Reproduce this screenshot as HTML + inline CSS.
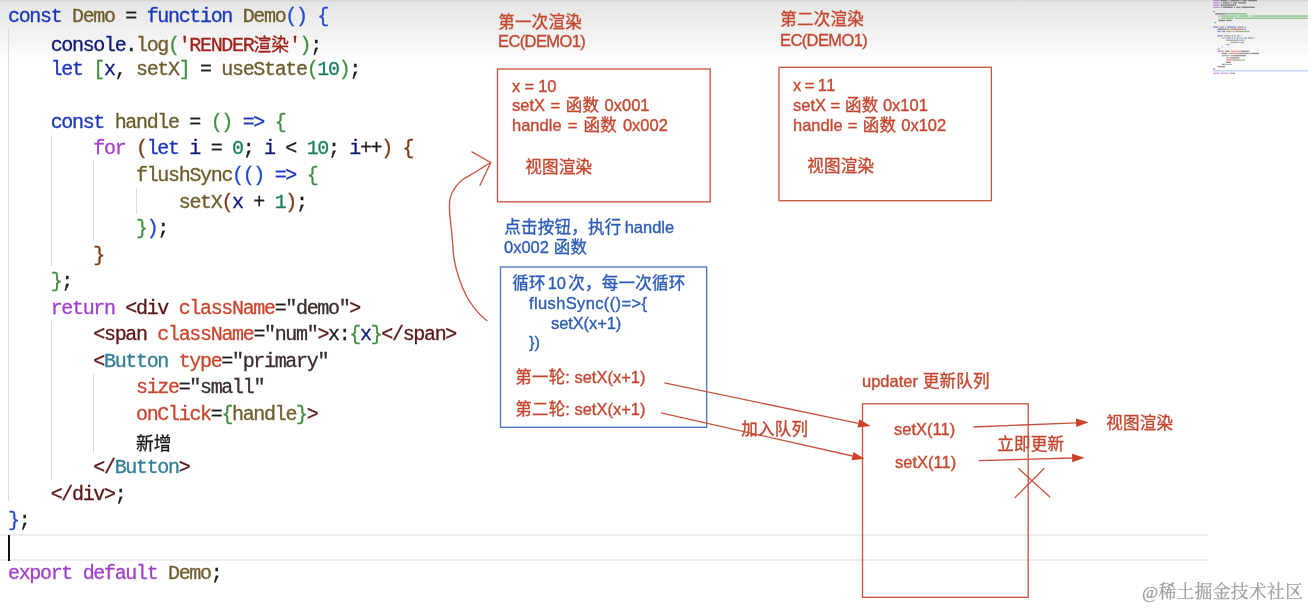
<!DOCTYPE html>
<html lang="zh"><head><meta charset="utf-8"><title>flushSync updater queue</title>
<style>
html,body{margin:0;padding:0}
body{width:1308px;height:609px;position:relative;overflow:hidden;background:#fff;font-family:"Liberation Sans","Noto Sans CJK SC",sans-serif}
.bg{position:absolute;left:0;top:0;width:1308px;height:80px;background:linear-gradient(to bottom,#d6d6d6 0px,#e4e4e4 2.5px,#e8e8e8 8px,#eeeeee 24px,#f5f5f5 42px,#fcfcfc 56px,#fff 66px)}
.cl,.dt,.wm{will-change:transform}
.cl{position:absolute;left:7.7px;height:26px;line-height:26px;font-family:"Liberation Mono","Noto Sans CJK SC",monospace;font-size:20.00px;white-space:pre;color:#1e1e1e;letter-spacing:-1.332px;-webkit-text-stroke:0.3px currentColor}
.cl span{display:inline-block}
.cj{display:inline-block;text-align:center;letter-spacing:0;word-spacing:0;white-space:nowrap}
.cl .cj{width:17.75px;font-size:17.75px;font-family:"Noto Sans CJK SC",sans-serif}
.ig{position:absolute;width:1px;background:#dcdcdc}
.hl{position:absolute;left:0;width:1208px;height:2px;background:#ededed}
.cur{position:absolute;left:7.5px;top:534.5px;width:2.4px;height:26px;background:#111}
.dt{position:absolute;height:20px;line-height:20px;white-space:pre;font-family:"Liberation Sans","Noto Sans CJK SC",sans-serif;-webkit-text-stroke:0.35px currentColor}
.r{display:inline-block}
.dt .cj{width:1.016em}
.ov{position:absolute;left:0;top:0}
.wm{position:absolute;font-family:"Liberation Serif","Noto Serif CJK SC",serif;font-size:17.7px;line-height:22px;height:22px;white-space:pre;color:#9e9e9e;-webkit-text-stroke:0.25px currentColor}
.wm .cj{width:18.1px;font-size:17.7px}
.k{color:#1a36bc}.f{color:#6d5c2b}.v{color:#0e1874}.s{color:#9e2018}.n{color:#1c7e5e}.c{color:#a040cc}.t{color:#5a1616}.a{color:#c9462f}.q{color:#3a2c2c}.y{color:#317d97}.p{color:#1c1c1c}.b1{color:#2048d2}.b2{color:#3f8f40}.b3{color:#7b3a16}
</style></head><body>
<div class="bg"></div>
<div class="ig" style="left:8.0px;top:28.4px;height:472.9px"></div>
<div class="ig" style="left:50.7px;top:134.7px;height:132.7px"></div>
<div class="ig" style="left:50.7px;top:320.5px;height:159.3px"></div>
<div class="ig" style="left:93.4px;top:161.2px;height:79.7px"></div>
<div class="ig" style="left:93.4px;top:373.6px;height:79.7px"></div>
<div class="ig" style="left:136.0px;top:187.8px;height:26.6px"></div>
<div class="hl" style="top:533.7px"></div><div class="hl" style="top:558.7px"></div>
<div class="cur"></div>
<div class="cl" style="top:3.70px"><span class="k" style="width:53.35px">const</span><span class="p" style="width:10.67px"> </span><span class="f" style="width:42.68px">Demo</span><span class="p" style="width:32.01px"> = </span><span class="k" style="width:85.36px">function</span><span class="p" style="width:10.67px"> </span><span class="f" style="width:42.68px">Demo</span><span class="b1" style="width:21.34px">()</span><span class="p" style="width:10.67px"> </span><span class="b1" style="width:10.67px">{</span></div>
<div class="cl" style="top:30.25px"><span class="p" style="width:42.68px">    </span><span class="v" style="width:74.69px">console</span><span class="p" style="width:10.67px">.</span><span class="f" style="width:32.01px">log</span><span class="b2" style="width:10.67px">(</span><span class="s" style="width:120.86px">&#x27;RENDER<span class="cj">渲</span><span class="cj">染</span>&#x27;</span><span class="b2" style="width:10.67px">)</span><span class="p" style="width:10.67px">;</span></div>
<div class="cl" style="top:56.80px"><span class="p" style="width:42.68px">    </span><span class="k" style="width:32.01px">let</span><span class="p" style="width:10.67px"> </span><span class="b2" style="width:10.67px">[</span><span class="v" style="width:10.67px">x</span><span class="p" style="width:21.34px">, </span><span class="f" style="width:42.68px">setX</span><span class="b2" style="width:10.67px">]</span><span class="p" style="width:32.01px"> = </span><span class="f" style="width:85.36px">useState</span><span class="b2" style="width:10.67px">(</span><span class="n" style="width:21.34px">10</span><span class="b2" style="width:10.67px">)</span><span class="p" style="width:10.67px">;</span></div>
<div class="cl" style="top:109.90px"><span class="p" style="width:42.68px">    </span><span class="k" style="width:53.35px">const</span><span class="p" style="width:10.67px"> </span><span class="f" style="width:64.02px">handle</span><span class="p" style="width:32.01px"> = </span><span class="b2" style="width:21.34px">()</span><span class="p" style="width:10.67px"> </span><span class="k" style="width:21.34px">=&gt;</span><span class="p" style="width:10.67px"> </span><span class="b2" style="width:10.67px">{</span></div>
<div class="cl" style="top:136.45px"><span class="p" style="width:85.36px">        </span><span class="c" style="width:32.01px">for</span><span class="p" style="width:10.67px"> </span><span class="b3" style="width:10.67px">(</span><span class="k" style="width:32.01px">let</span><span class="p" style="width:10.67px"> </span><span class="v" style="width:10.67px">i</span><span class="p" style="width:32.01px"> = </span><span class="n" style="width:10.67px">0</span><span class="p" style="width:21.34px">; </span><span class="v" style="width:10.67px">i</span><span class="p" style="width:32.01px"> &lt; </span><span class="n" style="width:21.34px">10</span><span class="p" style="width:21.34px">; </span><span class="v" style="width:10.67px">i</span><span class="p" style="width:21.34px">++</span><span class="b3" style="width:10.67px">)</span><span class="p" style="width:10.67px"> </span><span class="b3" style="width:10.67px">{</span></div>
<div class="cl" style="top:163.00px"><span class="p" style="width:128.04px">            </span><span class="f" style="width:96.03px">flushSync</span><span class="b1" style="width:10.67px">(</span><span class="b1" style="width:21.34px">()</span><span class="p" style="width:10.67px"> </span><span class="k" style="width:21.34px">=&gt;</span><span class="p" style="width:10.67px"> </span><span class="b2" style="width:10.67px">{</span></div>
<div class="cl" style="top:189.55px"><span class="p" style="width:170.72px">                </span><span class="f" style="width:42.68px">setX</span><span class="b3" style="width:10.67px">(</span><span class="v" style="width:10.67px">x</span><span class="p" style="width:32.01px"> + </span><span class="n" style="width:10.67px">1</span><span class="b3" style="width:10.67px">)</span><span class="p" style="width:10.67px">;</span></div>
<div class="cl" style="top:216.10px"><span class="p" style="width:128.04px">            </span><span class="b2" style="width:10.67px">}</span><span class="b1" style="width:10.67px">)</span><span class="p" style="width:10.67px">;</span></div>
<div class="cl" style="top:242.65px"><span class="p" style="width:85.36px">        </span><span class="b3" style="width:10.67px">}</span></div>
<div class="cl" style="top:269.20px"><span class="p" style="width:42.68px">    </span><span class="b2" style="width:10.67px">}</span><span class="p" style="width:10.67px">;</span></div>
<div class="cl" style="top:295.75px"><span class="p" style="width:42.68px">    </span><span class="c" style="width:64.02px">return</span><span class="p" style="width:10.67px"> </span><span class="t" style="width:42.68px">&lt;div</span><span class="p" style="width:10.67px"> </span><span class="a" style="width:96.03px">className</span><span class="p" style="width:10.67px">=</span><span class="q" style="width:64.02px">&quot;demo&quot;</span><span class="t" style="width:10.67px">&gt;</span></div>
<div class="cl" style="top:322.30px"><span class="p" style="width:85.36px">        </span><span class="t" style="width:53.35px">&lt;span</span><span class="p" style="width:10.67px"> </span><span class="a" style="width:96.03px">className</span><span class="p" style="width:10.67px">=</span><span class="q" style="width:53.35px">&quot;num&quot;</span><span class="t" style="width:10.67px">&gt;</span><span class="p" style="width:21.34px">x:</span><span class="b2" style="width:10.67px">{</span><span class="v" style="width:10.67px">x</span><span class="b2" style="width:10.67px">}</span><span class="t" style="width:74.69px">&lt;/span&gt;</span></div>
<div class="cl" style="top:348.85px"><span class="p" style="width:85.36px">        </span><span class="t" style="width:10.67px">&lt;</span><span class="y" style="width:64.02px">Button</span><span class="p" style="width:10.67px"> </span><span class="a" style="width:42.68px">type</span><span class="p" style="width:10.67px">=</span><span class="q" style="width:96.03px">&quot;primary&quot;</span></div>
<div class="cl" style="top:375.40px"><span class="p" style="width:128.04px">            </span><span class="a" style="width:42.68px">size</span><span class="p" style="width:10.67px">=</span><span class="q" style="width:74.69px">&quot;small&quot;</span></div>
<div class="cl" style="top:401.95px"><span class="p" style="width:128.04px">            </span><span class="a" style="width:74.69px">onClick</span><span class="p" style="width:10.67px">=</span><span class="b2" style="width:10.67px">{</span><span class="f" style="width:64.02px">handle</span><span class="b2" style="width:10.67px">}</span><span class="t" style="width:10.67px">&gt;</span></div>
<div class="cl" style="top:428.50px"><span class="p" style="width:128.04px">            </span><span class="p" style="width:35.50px"><span class="cj">新</span><span class="cj">增</span></span></div>
<div class="cl" style="top:455.05px"><span class="p" style="width:85.36px">        </span><span class="t" style="width:21.34px">&lt;/</span><span class="y" style="width:64.02px">Button</span><span class="t" style="width:10.67px">&gt;</span></div>
<div class="cl" style="top:481.60px"><span class="p" style="width:42.68px">    </span><span class="t" style="width:64.02px">&lt;/div&gt;</span><span class="p" style="width:10.67px">;</span></div>
<div class="cl" style="top:508.15px"><span class="b1" style="width:10.67px">}</span><span class="p" style="width:10.67px">;</span></div>
<div class="cl" style="top:561.25px"><span class="c" style="width:64.02px">export</span><span class="p" style="width:10.67px"> </span><span class="c" style="width:74.69px">default</span><span class="p" style="width:10.67px"> </span><span class="f" style="width:42.68px">Demo</span><span class="p" style="width:10.67px">;</span></div>
<svg class="ov" width="1308" height="609" viewBox="0 0 1308 609">
<rect x="497.5" y="69.0" width="212.7" height="132.8" fill="none" stroke="#c9523c" stroke-width="1.30"/>
<rect x="779.0" y="67.3" width="212.4" height="133.4" fill="none" stroke="#c9523c" stroke-width="1.30"/>
<rect x="500.5" y="267.0" width="206.2" height="160.3" fill="none" stroke="#4a72c2" stroke-width="1.30"/>
<rect x="862.5" y="403.8" width="165.7" height="193.5" fill="none" stroke="#c9523c" stroke-width="1.30"/>
<line x1="664.3" y1="382.9" x2="858.4" y2="423.4" stroke="#c9523c" stroke-width="1.30"/><polygon points="870.6,426.0 857.5,427.6 859.2,419.3" fill="#cf4228"/>
<line x1="660.9" y1="412.8" x2="852.5" y2="456.0" stroke="#c9523c" stroke-width="1.30"/><polygon points="864.7,458.8 851.6,460.2 853.4,451.9" fill="#cf4228"/>
<line x1="973.5" y1="427.0" x2="1076.1" y2="422.8" stroke="#c9523c" stroke-width="1.30"/><polygon points="1088.6,422.3 1076.3,427.1 1075.9,418.6" fill="#cf4228"/>
<line x1="978.7" y1="460.6" x2="1072.1" y2="458.0" stroke="#c9523c" stroke-width="1.30"/><polygon points="1084.6,457.7 1072.2,462.3 1072.0,453.8" fill="#cf4228"/>
<path d="M1018.2 468.3L1050.2 497.2M1044.4 468.3L1014.7 497.9" stroke="#c9523c" stroke-width="1.3" fill="none"/>
<path d="M486.9 320.6C485.3 319.2 480.9 316.0 477.5 311.9C474.1 307.8 469.7 302.0 466.6 296.2C463.5 290.5 460.8 283.8 458.8 277.5C456.7 271.2 455.2 266.0 454.1 258.8C453.0 251.5 452.6 241.6 451.9 233.8C451.1 225.9 449.9 217.9 449.6 211.9C449.3 205.9 449.2 202.0 450.2 197.8C451.2 193.6 453.4 190.0 455.6 186.9C457.8 183.8 460.3 181.4 463.4 179.1C466.5 176.8 471.0 174.9 474.4 172.8C477.8 170.7 481.0 168.3 483.8 166.6C486.5 164.9 489.6 163.2 490.8 162.5" stroke="#c9523c" stroke-width="1.30" fill="none" stroke-linecap="round"/>
<path d="M471.9 151.9L490.8 162.5L480.0 185.3" stroke="#c9523c" stroke-width="1.3" fill="none" stroke-linecap="round" stroke-linejoin="round"/>
<rect x="1213" y="70" width="95" height="1.6" fill="#c9d7f5"/>
<g opacity="0.5"><rect x="1213.0" y="0.0" width="6.6" height="1.3" fill="#a040cc"/><rect x="1220.7" y="0.0" width="6.6" height="1.3" fill="#1c1c1c"/><rect x="1228.4" y="0.0" width="1.1" height="1.3" fill="#1c1c1c"/><rect x="1230.6" y="0.0" width="8.8" height="1.3" fill="#1c1c1c"/><rect x="1240.5" y="0.0" width="1.1" height="1.3" fill="#1c1c1c"/><rect x="1242.7" y="0.0" width="4.4" height="1.3" fill="#1c1c1c"/><rect x="1248.2" y="0.0" width="8.8" height="1.3" fill="#1c1c1c"/><rect x="1213.0" y="2.2" width="6.6" height="1.3" fill="#a040cc"/><rect x="1220.7" y="2.2" width="1.1" height="1.3" fill="#1c1c1c"/><rect x="1222.9" y="2.2" width="6.6" height="1.3" fill="#1c1c1c"/><rect x="1230.6" y="2.2" width="1.1" height="1.3" fill="#1c1c1c"/><rect x="1232.8" y="2.2" width="4.4" height="1.3" fill="#1c1c1c"/><rect x="1238.3" y="2.2" width="7.7" height="1.3" fill="#1c1c1c"/><rect x="1213.0" y="4.4" width="6.6" height="1.3" fill="#a040cc"/><rect x="1220.7" y="4.4" width="15.4" height="1.3" fill="#1c1c1c"/><rect x="1213.0" y="6.6" width="6.6" height="1.3" fill="#a040cc"/><rect x="1220.7" y="6.6" width="1.1" height="1.3" fill="#1c1c1c"/><rect x="1222.9" y="6.6" width="9.9" height="1.3" fill="#1c1c1c"/><rect x="1233.9" y="6.6" width="1.1" height="1.3" fill="#1c1c1c"/><rect x="1236.1" y="6.6" width="4.4" height="1.3" fill="#1c1c1c"/><rect x="1241.6" y="6.6" width="13.2" height="1.3" fill="#1c1c1c"/><rect x="1213.0" y="11.0" width="2.2" height="1.3" fill="#1f9a30"/><rect x="1215.2" y="13.2" width="9.9" height="1.3" fill="#1c1c1c"/><rect x="1225.1" y="13.2" width="22.0" height="1.3" fill="#1f9a30"/><rect x="1218.5" y="15.4" width="1.1" height="1.3" fill="#1c1c1c"/><rect x="1220.7" y="15.4" width="16.5" height="1.3" fill="#1f9a30"/><rect x="1238.3" y="15.4" width="9.9" height="1.3" fill="#1f9a30"/><rect x="1249.3" y="15.4" width="2.2" height="1.3" fill="#1f9a30"/><rect x="1252.6" y="15.4" width="55.4" height="1.3" fill="#1f9a30"/><rect x="1218.5" y="17.6" width="1.1" height="1.3" fill="#1f9a30"/><rect x="1220.7" y="17.6" width="13.2" height="1.3" fill="#1f9a30"/><rect x="1235.0" y="17.6" width="72.6" height="1.3" fill="#1f9a30"/><rect x="1218.5" y="19.8" width="6.6" height="1.3" fill="#1c1c1c"/><rect x="1226.2" y="19.8" width="5.5" height="1.3" fill="#1c1c1c"/><rect x="1214.1" y="22.0" width="2.2" height="1.3" fill="#1f9a30"/><rect x="1213.0" y="26.4" width="5.5" height="1.3" fill="#1a36bc"/><rect x="1219.6" y="26.4" width="4.4" height="1.3" fill="#6d5c2b"/><rect x="1225.1" y="26.4" width="1.1" height="1.3" fill="#1c1c1c"/><rect x="1227.3" y="26.4" width="8.8" height="1.3" fill="#1a36bc"/><rect x="1237.2" y="26.4" width="4.4" height="1.3" fill="#6d5c2b"/><rect x="1241.6" y="26.4" width="2.2" height="1.3" fill="#2048d2"/><rect x="1244.9" y="26.4" width="1.1" height="1.3" fill="#2048d2"/><rect x="1217.4" y="28.6" width="7.7" height="1.3" fill="#0e1874"/><rect x="1225.1" y="28.6" width="1.1" height="1.3" fill="#1c1c1c"/><rect x="1226.2" y="28.6" width="3.3" height="1.3" fill="#6d5c2b"/><rect x="1229.5" y="28.6" width="1.1" height="1.3" fill="#3f8f40"/><rect x="1230.6" y="28.6" width="13.2" height="1.3" fill="#9e2018"/><rect x="1243.8" y="28.6" width="1.1" height="1.3" fill="#3f8f40"/><rect x="1244.9" y="28.6" width="1.1" height="1.3" fill="#1c1c1c"/><rect x="1217.4" y="30.8" width="3.3" height="1.3" fill="#1a36bc"/><rect x="1221.8" y="30.8" width="1.1" height="1.3" fill="#3f8f40"/><rect x="1222.9" y="30.8" width="1.1" height="1.3" fill="#0e1874"/><rect x="1224.0" y="30.8" width="1.1" height="1.3" fill="#1c1c1c"/><rect x="1226.2" y="30.8" width="4.4" height="1.3" fill="#6d5c2b"/><rect x="1230.6" y="30.8" width="1.1" height="1.3" fill="#3f8f40"/><rect x="1232.8" y="30.8" width="1.1" height="1.3" fill="#1c1c1c"/><rect x="1235.0" y="30.8" width="8.8" height="1.3" fill="#6d5c2b"/><rect x="1243.8" y="30.8" width="1.1" height="1.3" fill="#3f8f40"/><rect x="1244.9" y="30.8" width="2.2" height="1.3" fill="#1c7e5e"/><rect x="1247.1" y="30.8" width="1.1" height="1.3" fill="#3f8f40"/><rect x="1248.2" y="30.8" width="1.1" height="1.3" fill="#1c1c1c"/><rect x="1217.4" y="35.2" width="5.5" height="1.3" fill="#1a36bc"/><rect x="1224.0" y="35.2" width="6.6" height="1.3" fill="#6d5c2b"/><rect x="1231.7" y="35.2" width="1.1" height="1.3" fill="#1c1c1c"/><rect x="1233.9" y="35.2" width="2.2" height="1.3" fill="#3f8f40"/><rect x="1237.2" y="35.2" width="2.2" height="1.3" fill="#1a36bc"/><rect x="1240.5" y="35.2" width="1.1" height="1.3" fill="#3f8f40"/><rect x="1221.8" y="37.4" width="3.3" height="1.3" fill="#a040cc"/><rect x="1226.2" y="37.4" width="1.1" height="1.3" fill="#7b3a16"/><rect x="1227.3" y="37.4" width="3.3" height="1.3" fill="#1a36bc"/><rect x="1231.7" y="37.4" width="1.1" height="1.3" fill="#0e1874"/><rect x="1233.9" y="37.4" width="1.1" height="1.3" fill="#1c1c1c"/><rect x="1236.1" y="37.4" width="1.1" height="1.3" fill="#1c7e5e"/><rect x="1237.2" y="37.4" width="1.1" height="1.3" fill="#1c1c1c"/><rect x="1239.4" y="37.4" width="1.1" height="1.3" fill="#0e1874"/><rect x="1241.6" y="37.4" width="1.1" height="1.3" fill="#1c1c1c"/><rect x="1243.8" y="37.4" width="2.2" height="1.3" fill="#1c7e5e"/><rect x="1246.0" y="37.4" width="1.1" height="1.3" fill="#1c1c1c"/><rect x="1248.2" y="37.4" width="1.1" height="1.3" fill="#0e1874"/><rect x="1249.3" y="37.4" width="2.2" height="1.3" fill="#1c1c1c"/><rect x="1251.5" y="37.4" width="1.1" height="1.3" fill="#7b3a16"/><rect x="1253.7" y="37.4" width="1.1" height="1.3" fill="#7b3a16"/><rect x="1226.2" y="39.6" width="9.9" height="1.3" fill="#6d5c2b"/><rect x="1236.1" y="39.6" width="1.1" height="1.3" fill="#2048d2"/><rect x="1237.2" y="39.6" width="2.2" height="1.3" fill="#2048d2"/><rect x="1240.5" y="39.6" width="2.2" height="1.3" fill="#1a36bc"/><rect x="1243.8" y="39.6" width="1.1" height="1.3" fill="#3f8f40"/><rect x="1230.6" y="41.8" width="4.4" height="1.3" fill="#6d5c2b"/><rect x="1235.0" y="41.8" width="1.1" height="1.3" fill="#7b3a16"/><rect x="1236.1" y="41.8" width="1.1" height="1.3" fill="#0e1874"/><rect x="1238.3" y="41.8" width="1.1" height="1.3" fill="#1c1c1c"/><rect x="1240.5" y="41.8" width="1.1" height="1.3" fill="#1c7e5e"/><rect x="1241.6" y="41.8" width="1.1" height="1.3" fill="#7b3a16"/><rect x="1242.7" y="41.8" width="1.1" height="1.3" fill="#1c1c1c"/><rect x="1226.2" y="44.0" width="1.1" height="1.3" fill="#3f8f40"/><rect x="1227.3" y="44.0" width="1.1" height="1.3" fill="#2048d2"/><rect x="1228.4" y="44.0" width="1.1" height="1.3" fill="#1c1c1c"/><rect x="1221.8" y="46.2" width="1.1" height="1.3" fill="#7b3a16"/><rect x="1217.4" y="48.4" width="1.1" height="1.3" fill="#3f8f40"/><rect x="1218.5" y="48.4" width="1.1" height="1.3" fill="#1c1c1c"/><rect x="1217.4" y="50.6" width="6.6" height="1.3" fill="#a040cc"/><rect x="1225.1" y="50.6" width="4.4" height="1.3" fill="#5a1616"/><rect x="1230.6" y="50.6" width="9.9" height="1.3" fill="#c9462f"/><rect x="1240.5" y="50.6" width="1.1" height="1.3" fill="#1c1c1c"/><rect x="1241.6" y="50.6" width="6.6" height="1.3" fill="#3a2c2c"/><rect x="1248.2" y="50.6" width="1.1" height="1.3" fill="#5a1616"/><rect x="1221.8" y="52.8" width="5.5" height="1.3" fill="#5a1616"/><rect x="1228.4" y="52.8" width="9.9" height="1.3" fill="#c9462f"/><rect x="1238.3" y="52.8" width="1.1" height="1.3" fill="#1c1c1c"/><rect x="1239.4" y="52.8" width="5.5" height="1.3" fill="#3a2c2c"/><rect x="1244.9" y="52.8" width="1.1" height="1.3" fill="#5a1616"/><rect x="1246.0" y="52.8" width="2.2" height="1.3" fill="#1c1c1c"/><rect x="1248.2" y="52.8" width="1.1" height="1.3" fill="#3f8f40"/><rect x="1249.3" y="52.8" width="1.1" height="1.3" fill="#0e1874"/><rect x="1250.4" y="52.8" width="1.1" height="1.3" fill="#3f8f40"/><rect x="1251.5" y="52.8" width="7.7" height="1.3" fill="#5a1616"/><rect x="1221.8" y="55.0" width="1.1" height="1.3" fill="#5a1616"/><rect x="1222.9" y="55.0" width="6.6" height="1.3" fill="#317d97"/><rect x="1230.6" y="55.0" width="4.4" height="1.3" fill="#c9462f"/><rect x="1235.0" y="55.0" width="1.1" height="1.3" fill="#1c1c1c"/><rect x="1236.1" y="55.0" width="9.9" height="1.3" fill="#3a2c2c"/><rect x="1226.2" y="57.2" width="4.4" height="1.3" fill="#c9462f"/><rect x="1230.6" y="57.2" width="1.1" height="1.3" fill="#1c1c1c"/><rect x="1231.7" y="57.2" width="7.7" height="1.3" fill="#3a2c2c"/><rect x="1226.2" y="59.4" width="7.7" height="1.3" fill="#c9462f"/><rect x="1233.9" y="59.4" width="1.1" height="1.3" fill="#1c1c1c"/><rect x="1235.0" y="59.4" width="1.1" height="1.3" fill="#3f8f40"/><rect x="1236.1" y="59.4" width="6.6" height="1.3" fill="#6d5c2b"/><rect x="1242.7" y="59.4" width="1.1" height="1.3" fill="#3f8f40"/><rect x="1243.8" y="59.4" width="1.1" height="1.3" fill="#5a1616"/><rect x="1226.2" y="61.6" width="4.4" height="1.3" fill="#1c1c1c"/><rect x="1221.8" y="63.8" width="2.2" height="1.3" fill="#5a1616"/><rect x="1224.0" y="63.8" width="6.6" height="1.3" fill="#317d97"/><rect x="1230.6" y="63.8" width="1.1" height="1.3" fill="#5a1616"/><rect x="1217.4" y="66.0" width="6.6" height="1.3" fill="#5a1616"/><rect x="1224.0" y="66.0" width="1.1" height="1.3" fill="#1c1c1c"/><rect x="1213.0" y="68.2" width="1.1" height="1.3" fill="#2048d2"/><rect x="1214.1" y="68.2" width="1.1" height="1.3" fill="#1c1c1c"/><rect x="1213.0" y="72.6" width="6.6" height="1.3" fill="#a040cc"/><rect x="1220.7" y="72.6" width="7.7" height="1.3" fill="#a040cc"/><rect x="1229.5" y="72.6" width="4.4" height="1.3" fill="#6d5c2b"/><rect x="1233.9" y="72.6" width="1.1" height="1.3" fill="#1c1c1c"/></g>
</svg>
<div class="dt" style="left:498.3px;top:11.58px;font-size:16.50px;color:#c4472f;"><span class="cj">第</span><span class="cj">一</span><span class="cj">次</span><span class="cj">渲</span><span class="cj">染</span></div>
<div class="dt" style="left:498.3px;top:31.38px;font-size:16.50px;color:#c4472f;letter-spacing:-0.6px"><span class="r" style="width:48.34px">EC(DE</span><span class="r" style="width:38.86px">MO1)</span></div>
<div class="dt" style="left:511.8px;top:75.78px;font-size:16.50px;color:#c4472f;letter-spacing:-0.2px"><span class="r" style="width:35.23px">x = 1</span><span class="r" style="width:8.98px">0</span></div>
<div class="dt" style="left:511.8px;top:95.28px;font-size:16.50px;color:#c4472f;word-spacing:0.9px"><span class="r" style="width:48.14px">setX =</span><span class="r" style="width:5.48px"> </span><span class="cj">函</span><span class="cj">数</span><span class="r" style="width:41.27px"> 0x00</span><span class="r" style="width:9.19px">1</span></div>
<div class="dt" style="left:511.8px;top:115.18px;font-size:16.50px;color:#c4472f;word-spacing:1.5px"><span class="r" style="width:40.38px">handl</span><span class="r" style="width:30.98px">e = </span><span class="cj">函</span><span class="cj">数</span><span class="r" style="width:41.88px"> 0x00</span><span class="r" style="width:9.19px">2</span></div>
<div class="dt" style="left:525.3px;top:156.58px;font-size:16.50px;color:#c4472f;"><span class="cj">视</span><span class="cj">图</span><span class="cj">渲</span><span class="cj">染</span></div>
<div class="dt" style="left:780.0px;top:9.28px;font-size:16.50px;color:#c4472f;"><span class="cj">第</span><span class="cj">二</span><span class="cj">次</span><span class="cj">渲</span><span class="cj">染</span></div>
<div class="dt" style="left:780.0px;top:29.88px;font-size:16.50px;color:#c4472f;letter-spacing:-0.6px"><span class="r" style="width:48.34px">EC(DE</span><span class="r" style="width:38.86px">MO1)</span></div>
<div class="dt" style="left:792.9px;top:74.58px;font-size:16.50px;color:#c4472f;letter-spacing:-0.6px"><span class="r" style="width:33.23px">x = 1</span><span class="r" style="width:8.58px">1</span></div>
<div class="dt" style="left:792.9px;top:94.58px;font-size:16.50px;color:#c4472f;"><span class="r" style="width:47.25px">setX =</span><span class="r" style="width:4.59px"> </span><span class="cj">函</span><span class="cj">数</span><span class="r" style="width:40.38px"> 0x10</span><span class="r" style="width:9.19px">1</span></div>
<div class="dt" style="left:792.9px;top:115.18px;font-size:16.50px;color:#c4472f;word-spacing:0.6px"><span class="r" style="width:40.38px">handl</span><span class="r" style="width:29.19px">e = </span><span class="cj">函</span><span class="cj">数</span><span class="r" style="width:40.97px"> 0x10</span><span class="r" style="width:9.19px">2</span></div>
<div class="dt" style="left:806.7px;top:155.58px;font-size:16.50px;color:#c4472f;"><span class="cj">视</span><span class="cj">图</span><span class="cj">渲</span><span class="cj">染</span></div>
<div class="dt" style="left:504.2px;top:216.58px;font-size:16.50px;color:#2d5cb6;word-spacing:-1.2px"><span class="cj">点</span><span class="cj">击</span><span class="cj">按</span><span class="cj">钮</span><span class="cj">，</span><span class="cj">执</span><span class="cj">行</span><span class="r" style="width:40.09px"> hand</span><span class="r" style="width:12.84px">le</span></div>
<div class="dt" style="left:504.2px;top:236.58px;font-size:16.50px;color:#2d5cb6;"><span class="r" style="width:44.97px">0x002</span><span class="r" style="width:4.59px"> </span><span class="cj">函</span><span class="cj">数</span></div>
<div class="dt" style="left:511.7px;top:273.28px;font-size:16.50px;color:#2d5cb6;word-spacing:-2.4px"><span class="cj">循</span><span class="cj">环</span><span class="r" style="width:22.73px"> 10 </span><span class="cj">次</span><span class="cj">，</span><span class="cj">每</span><span class="cj">一</span><span class="cj">次</span><span class="cj">循</span><span class="cj">环</span></div>
<div class="dt" style="left:529.4px;top:292.78px;font-size:16.50px;color:#2d5cb6;letter-spacing:0.37px"><span class="r" style="width:36.70px">flush</span><span class="r" style="width:44.03px">Sync(</span><span class="r" style="width:37.62px">()=&gt;{</span></div>
<div class="dt" style="left:551.3px;top:313.08px;font-size:16.50px;color:#2d5cb6;letter-spacing:-0.1px"><span class="r" style="width:38.02px">setX(</span><span class="r" style="width:32.17px">x+1)</span></div>
<div class="dt" style="left:529.1px;top:331.88px;font-size:16.50px;color:#2d5cb6;"><span class="r" style="width:11.02px">})</span></div>
<div class="dt" style="left:515.2px;top:367.08px;font-size:16.50px;color:#c4472f;"><span class="cj">第</span><span class="cj">一</span><span class="cj">轮</span><span class="r" style="width:31.19px">: set</span><span class="r" style="width:43.56px">X(x+1</span><span class="r" style="width:5.50px">)</span></div>
<div class="dt" style="left:515.2px;top:399.08px;font-size:16.50px;color:#c4472f;"><span class="cj">第</span><span class="cj">二</span><span class="cj">轮</span><span class="r" style="width:31.19px">: set</span><span class="r" style="width:43.56px">X(x+1</span><span class="r" style="width:5.50px">)</span></div>
<div class="dt" style="left:741.4px;top:418.58px;font-size:16.50px;color:#c4472f;"><span class="cj">加</span><span class="cj">入</span><span class="cj">队</span><span class="cj">列</span></div>
<div class="dt" style="left:862.3px;top:370.68px;font-size:16.50px;color:#c4472f;"><span class="r" style="width:41.30px">updat</span><span class="r" style="width:19.27px">er </span><span class="cj">更</span><span class="cj">新</span><span class="cj">队</span><span class="cj">列</span></div>
<div class="dt" style="left:894.1px;top:418.98px;font-size:16.50px;color:#c4472f;"><span class="r" style="width:38.52px">setX(</span><span class="r" style="width:22.62px">11)</span></div>
<div class="dt" style="left:895.2px;top:451.88px;font-size:16.50px;color:#c4472f;"><span class="r" style="width:38.52px">setX(</span><span class="r" style="width:22.62px">11)</span></div>
<div class="dt" style="left:997.1px;top:433.98px;font-size:16.50px;color:#c4472f;"><span class="cj">立</span><span class="cj">即</span><span class="cj">更</span><span class="cj">新</span></div>
<div class="dt" style="left:1106.2px;top:412.98px;font-size:16.50px;color:#c4472f;"><span class="cj">视</span><span class="cj">图</span><span class="cj">渲</span><span class="cj">染</span></div>
<div class="wm" style="left:1142.3px;top:581.3px">@<span class="cj">稀</span><span class="cj">土</span><span class="cj">掘</span><span class="cj">金</span><span class="cj">技</span><span class="cj">术</span><span class="cj">社</span><span class="cj">区</span></div>
</body></html>
